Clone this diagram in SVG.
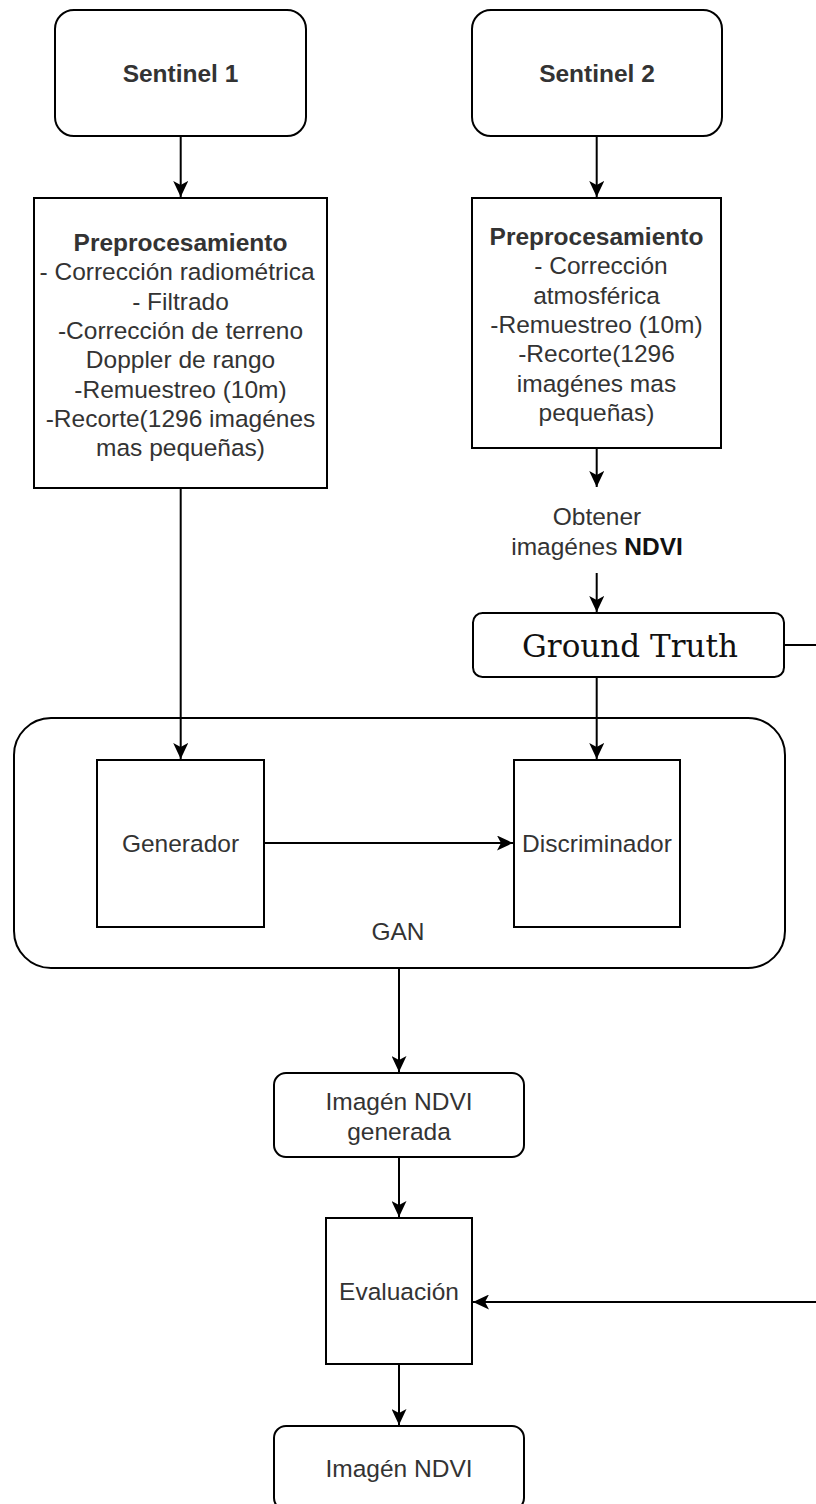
<svg xmlns="http://www.w3.org/2000/svg" width="816" height="1504" viewBox="0 0 816 1504">
<defs>
<style>
.box{fill:#fff;stroke:#000;stroke-width:2}
.t{font-family:"Liberation Sans",Arial,Helvetica,sans-serif;font-size:24.5px;fill:#333;text-anchor:middle}
.b{font-weight:bold}
.gt{font-family:"DejaVu Serif","Liberation Serif",serif;font-size:31px;fill:#111;text-anchor:middle}
.edge{fill:none;stroke:#000;stroke-width:2;marker-end:url(#arr)}
</style>
<marker id="arr" markerUnits="userSpaceOnUse" markerWidth="17" markerHeight="15" refX="16" refY="7.5" orient="auto">
<path d="M0,0 L16,7.5 L0,15 L4,7.5 Z" fill="#000"/>
</marker>
</defs>
<rect width="816" height="1504" fill="#fff"/>

<g id="gan">
<rect class="box" x="14" y="718" width="771" height="250" rx="37" ry="37"/>
<text class="t" x="398" y="940">GAN</text>
</g>

<g id="sentinel1">
<rect class="box" x="55" y="10" width="251" height="126" rx="19" ry="19"/>
<text class="t b" x="180.5" y="82">Sentinel 1</text>
</g>

<g id="sentinel2">
<rect class="box" x="472" y="10" width="250" height="126" rx="19" ry="19"/>
<text class="t b" x="597" y="82">Sentinel 2</text>
</g>

<g id="preproc1">
<rect class="box" x="34" y="198" width="293" height="290"/>
<text class="t b" x="180.5" y="251">Preprocesamiento</text>
<text class="t" x="177" y="280.3">- Corrección radiométrica</text>
<text class="t" x="180.5" y="309.6">- Filtrado</text>
<text class="t" x="180.5" y="338.9">-Corrección de terreno</text>
<text class="t" x="180.5" y="368.2">Doppler de rango</text>
<text class="t" x="180.5" y="397.5">-Remuestreo (10m)</text>
<text class="t" x="180.5" y="426.8">-Recorte(1296 imagénes</text>
<text class="t" x="180.5" y="456.1">mas pequeñas)</text>
</g>

<g id="preproc2">
<rect class="box" x="472" y="198" width="249" height="250"/>
<text class="t b" x="596.5" y="245">Preprocesamiento</text>
<text class="t" x="601" y="274.3">- Corrección</text>
<text class="t" x="596.5" y="303.6">atmosférica</text>
<text class="t" x="596.5" y="332.9">-Remuestreo (10m)</text>
<text class="t" x="596.5" y="362.2">-Recorte(1296</text>
<text class="t" x="596.5" y="391.5">imagénes mas</text>
<text class="t" x="596.5" y="420.8">pequeñas)</text>
</g>

<g id="obtener_ndvi">
<text class="t" x="597" y="525.3">Obtener</text>
<text class="t" x="597" y="554.6">imagénes <tspan class="b" font-weight="bold" fill="#111">NDVI</tspan></text>
</g>

<g id="ground_truth">
<rect class="box" x="473" y="613" width="311" height="64" rx="9.5" ry="9.5"/>
<text class="gt" x="630" y="657">Ground Truth</text>
</g>

<g id="generador">
<rect class="box" x="97" y="760" width="167" height="167"/>
<text class="t" x="180.5" y="851.5">Generador</text>
</g>

<g id="discriminador">
<rect class="box" x="514" y="760" width="166" height="167"/>
<text class="t" x="597" y="851.5">Discriminador</text>
</g>

<g id="ndvi_generada">
<rect class="box" x="274" y="1073" width="250" height="84" rx="12" ry="12"/>
<text class="t" x="399" y="1110.3">Imagén NDVI</text>
<text class="t" x="399" y="1139.6">generada</text>
</g>

<g id="evaluacion">
<rect class="box" x="326" y="1218" width="146" height="146"/>
<text class="t" x="399" y="1300">Evaluación</text>
</g>

<g id="ndvi_final">
<rect class="box" x="274" y="1426" width="250" height="84" rx="12" ry="12"/>
<text class="t" x="399" y="1477">Imagén NDVI</text>
</g>

<g id="connectors">
<path class="edge" d="M180.7,136 V197"/>
<path class="edge" d="M596.7,136 V197"/>
<path class="edge" d="M596.7,448 V487"/>
<path class="edge" d="M596.7,573 V612"/>
<path class="edge" d="M180.7,488 V759"/>
<path class="edge" d="M596.7,677 V759"/>
<path class="edge" d="M264,843 H513"/>
<path class="edge" d="M399,968 V1072"/>
<path class="edge" d="M399,1157 V1217"/>
<path class="edge" d="M399,1364 V1425"/>
<path class="edge" d="M784,645 H840 V1302 H473"/>
</g>
</svg>
